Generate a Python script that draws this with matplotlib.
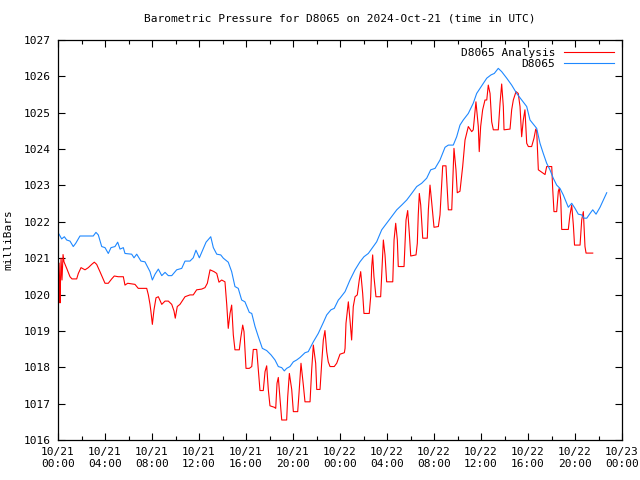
import numpy as np
import pandas as pd
import matplotlib
matplotlib.use('Agg')
import matplotlib.pyplot as plt
import matplotlib.dates as mdates

plt.rcParams['font.family'] = ['DejaVu Sans Mono']

# hours after 2024-10-21 00:00 UTC, pressure in mb
obs_hours = [0.09, 0.31, 0.54, 0.74, 1.02, 1.30, 1.51, 1.87, 3.00, 3.23, 3.43, 3.72,
             4.00, 4.28, 4.51, 4.85, 5.08, 5.28, 5.56, 5.70, 6.27, 6.47, 6.70, 7.06,
             7.40, 7.83, 8.03, 8.26, 8.54, 8.83, 9.11, 9.39, 9.68, 10.10, 10.53, 10.81,
             11.23, 11.51, 11.74, 12.03, 12.31, 12.60, 13.00, 13.22, 13.51, 13.85, 14.07,
             14.49, 14.78, 15.06, 15.34, 15.63, 15.91, 16.28, 16.49, 16.77, 17.05, 17.39,
             17.76, 18.13, 18.47, 18.75, 19.04, 19.26, 19.46, 19.74, 20.03, 20.31, 20.60,
             21.02, 21.30, 21.73, 22.15, 22.58, 22.87, 23.23, 23.51, 23.86, 24.00, 24.43,
             24.85, 25.28, 25.70, 26.04, 26.41, 26.83, 27.12, 27.55, 27.97, 28.40, 28.83,
             29.25, 29.68, 30.10, 30.53, 30.95, 31.38, 31.72, 32.09, 32.51, 32.94, 33.22,
             33.64, 33.93, 34.21, 34.49, 34.92, 35.34, 35.63, 36.06, 36.49, 36.85, 37.13,
             37.47, 37.76, 38.19, 38.61, 39.04, 39.46, 39.89, 40.17, 40.74, 41.02, 41.30,
             41.59, 41.87, 42.15, 42.44, 42.72, 43.00, 43.43, 43.72, 44.00, 44.28, 44.57,
             44.77, 45.00, 45.28, 45.51, 45.79, 46.13, 46.41, 46.70]
obs_mb = [1021.66, 1021.53, 1021.59, 1021.50, 1021.47, 1021.32, 1021.41, 1021.61, 1021.61,
          1021.71, 1021.64, 1021.32, 1021.29, 1021.13, 1021.29, 1021.32, 1021.44, 1021.25,
          1021.29, 1021.13, 1021.11, 1021.01, 1021.11, 1020.92, 1020.90, 1020.63, 1020.40,
          1020.56, 1020.70, 1020.52, 1020.61, 1020.52, 1020.52, 1020.68, 1020.72, 1020.92,
          1020.92, 1021.01, 1021.22, 1021.01, 1021.22, 1021.44, 1021.59, 1021.29, 1021.11,
          1021.09, 1021.00, 1020.89, 1020.63, 1020.22, 1020.17, 1019.85, 1019.80, 1019.51,
          1019.48, 1019.12, 1018.84, 1018.52, 1018.46, 1018.34, 1018.20, 1018.02, 1017.99,
          1017.90, 1017.97, 1018.02, 1018.15, 1018.20, 1018.27, 1018.40, 1018.43, 1018.70,
          1018.93, 1019.23, 1019.44, 1019.58, 1019.62, 1019.85, 1019.90, 1020.08, 1020.40,
          1020.68, 1020.90, 1021.04, 1021.13, 1021.32, 1021.45, 1021.78, 1021.96, 1022.14,
          1022.33, 1022.46, 1022.60, 1022.78, 1022.97, 1023.06, 1023.20, 1023.43, 1023.47,
          1023.70, 1024.05, 1024.11, 1024.11, 1024.34, 1024.66, 1024.80, 1024.98, 1025.26,
          1025.53, 1025.74, 1025.95, 1026.04, 1026.08, 1026.22, 1026.13, 1025.95, 1025.76,
          1025.53, 1025.35, 1025.17, 1024.80, 1024.57, 1024.16, 1023.88, 1023.61, 1023.43,
          1023.20, 1023.01, 1022.92, 1022.74, 1022.40, 1022.51, 1022.37, 1022.21, 1022.19,
          1022.10, 1022.10, 1022.23, 1022.33, 1022.21, 1022.40, 1022.60, 1022.80]

ana_hours = [0.09, 0.13, 0.17, 0.26, 0.34, 0.43, 0.51, 0.74, 1.02, 1.19, 1.59, 1.73, 1.96,
             2.30, 2.58, 2.87, 3.09, 3.29, 3.57, 4.00, 4.28, 4.57, 4.79, 5.13, 5.56, 5.70,
             5.93, 6.55, 6.83, 7.55, 7.69, 7.83, 7.91, 8.03, 8.17, 8.34, 8.54, 8.83, 9.11,
             9.39, 9.68, 9.87, 9.98, 10.15, 10.38, 10.81, 11.23, 11.51, 11.80, 12.23, 12.51,
             12.71, 12.94, 13.28, 13.51, 13.70, 13.93, 14.21, 14.36, 14.49, 14.64, 14.78,
             14.92, 15.06, 15.43, 15.55, 15.72, 15.83, 16.00, 16.28, 16.49, 16.62, 16.91,
             17.05, 17.19, 17.47, 17.62, 17.76, 17.90, 18.04, 18.41, 18.53, 18.64, 18.75,
             18.89, 19.04, 19.46, 19.55, 19.69, 19.89, 20.03, 20.40, 20.51, 20.68, 20.88,
             21.02, 21.45, 21.59, 21.73, 21.93, 22.02, 22.30, 22.44, 22.58, 22.72, 22.87,
             23.00, 23.15, 23.51, 23.72, 24.00, 24.37, 24.43, 24.51, 24.71, 24.85, 24.99,
             25.13, 25.28, 25.47, 25.64, 25.76, 25.93, 26.04, 26.49, 26.61, 26.70, 26.78,
             26.89, 27.06, 27.46, 27.57, 27.69, 27.83, 27.97, 28.49, 28.60, 28.74, 28.88,
             28.96, 29.45, 29.62, 29.76, 29.90, 30.02, 30.47, 30.58, 30.66, 30.75, 30.87,
             31.04, 31.43, 31.52, 31.66, 31.80, 32.00, 32.37, 32.51, 32.74, 33.02, 33.22,
             33.51, 33.70, 33.87, 33.98, 34.21, 34.44, 34.64, 34.92, 35.21, 35.34, 35.57,
             35.77, 35.85, 35.97, 36.14, 36.34, 36.49, 36.62, 36.77, 36.91, 37.05, 37.47,
             37.62, 37.76, 37.90, 37.96, 38.47, 38.61, 38.75, 38.98, 39.17, 39.32, 39.46,
             39.60, 39.74, 39.89, 40.03, 40.31, 40.51, 40.66, 40.74, 40.88, 41.19, 41.45,
             41.59, 42.02, 42.10, 42.21, 42.44, 42.58, 42.66, 42.79, 42.87, 43.43, 43.57,
             43.72, 43.86, 43.96, 44.43, 44.57, 44.71, 44.85, 44.94, 45.51]
ana_mb = [1020.86, 1020.45, 1019.77, 1021.00, 1020.40, 1021.10, 1020.90, 1020.72, 1020.49,
          1020.43, 1020.43, 1020.58, 1020.74, 1020.68, 1020.74, 1020.83, 1020.89, 1020.83,
          1020.63, 1020.31, 1020.31, 1020.43, 1020.51, 1020.49, 1020.49, 1020.26, 1020.31,
          1020.28, 1020.17, 1020.17, 1019.99, 1019.73, 1019.53, 1019.18, 1019.58, 1019.91,
          1019.94, 1019.73, 1019.82, 1019.82, 1019.73, 1019.55, 1019.35, 1019.67, 1019.73,
          1019.94, 1019.99, 1019.99, 1020.13, 1020.15, 1020.19, 1020.31, 1020.68, 1020.63,
          1020.58, 1020.34, 1020.40, 1020.35, 1019.73, 1019.07, 1019.48, 1019.71, 1018.89,
          1018.48, 1018.48, 1018.80, 1019.16, 1018.98, 1017.97, 1017.97, 1018.02, 1018.49,
          1018.49, 1017.93, 1017.36, 1017.36, 1017.88, 1018.04, 1017.38, 1016.94, 1016.90,
          1016.87, 1017.56, 1017.72, 1017.15, 1016.55, 1016.55, 1017.19, 1017.83, 1017.39,
          1016.78, 1016.78, 1017.28, 1018.11, 1017.51, 1017.05, 1017.05, 1017.93, 1018.61,
          1018.11, 1017.39, 1017.39, 1018.11, 1018.75, 1019.01, 1018.43, 1018.15, 1018.02,
          1018.02, 1018.11, 1018.36, 1018.40, 1018.52, 1019.21, 1019.80, 1019.30, 1018.75,
          1019.67, 1019.94, 1019.99, 1020.40, 1020.63, 1020.03, 1019.48, 1019.48, 1019.94,
          1020.77, 1021.09, 1020.49, 1019.94, 1019.94, 1020.68, 1021.50, 1021.09, 1020.35,
          1020.35, 1021.50, 1021.96, 1021.50, 1020.77, 1020.77, 1022.05, 1022.31, 1021.68,
          1021.06, 1021.09, 1021.41, 1022.19, 1022.78, 1022.46, 1021.55, 1021.55, 1022.33,
          1023.01, 1022.55, 1021.85, 1021.87, 1022.19, 1023.54, 1023.54, 1022.33, 1022.33,
          1024.02, 1023.43, 1022.80, 1022.84, 1023.52, 1024.25, 1024.62, 1024.48, 1024.53,
          1025.30, 1024.62, 1023.93, 1024.62, 1025.08, 1025.35, 1025.35, 1025.76, 1025.53,
          1024.75, 1024.53, 1024.53, 1025.26, 1025.79, 1025.17, 1024.53, 1024.55, 1025.08,
          1025.35, 1025.58, 1025.53, 1025.17, 1024.34, 1024.80, 1025.08, 1024.16, 1024.07,
          1024.07, 1024.30, 1024.55, 1024.50, 1023.43, 1023.36, 1023.30, 1023.52, 1023.52,
          1022.92, 1022.28, 1022.28, 1022.84, 1022.92, 1022.60, 1021.79, 1021.79, 1022.19,
          1022.46, 1021.91, 1021.36, 1021.36, 1022.05, 1022.28, 1021.32, 1021.14, 1021.14]

t0 = pd.Timestamp('2024-10-21 00:00')
obs_t = t0 + pd.to_timedelta(obs_hours, unit='h')
ana_t = t0 + pd.to_timedelta(ana_hours, unit='h')

fig = plt.figure(figsize=(6.4, 4.8), dpi=100)
ax = fig.add_axes([58 / 640, 40 / 480, 564 / 640, 400 / 480])

ax.plot(ana_t, ana_mb, color='#ff0000', lw=0.8, label='D8065 Analysis')
ax.plot(obs_t, obs_mb, color='#1e88ff', lw=0.8, label='D8065')

ax.set_xlim(t0, t0 + pd.Timedelta(hours=48))
ax.set_ylim(1016, 1027)
ax.set_yticks(np.arange(1016, 1028, 1))
ax.xaxis.set_major_locator(mdates.HourLocator(byhour=range(0, 24, 4)))
ax.xaxis.set_minor_locator(mdates.HourLocator(byhour=range(2, 24, 4)))
ax.xaxis.set_major_formatter(mdates.DateFormatter('%m/%d\n%H:%M'))

ax.tick_params(which='both', direction='in', top=True, right=True, labelsize=8, width=0.8)
ax.tick_params(which='major', length=5, pad=5)
ax.tick_params(which='minor', length=3)
for s in ax.spines.values():
    s.set_linewidth(0.9)

ax.set_title('Barometric Pressure for D8065 on 2024-Oct-21 (time in UTC)', fontsize=8, pad=13)
ax.set_ylabel('milliBars', fontsize=8, labelpad=8)

ax.legend(loc='upper right', frameon=False, fontsize=8, markerfirst=False,
          handlelength=4.5, handletextpad=0.8, labelspacing=0.1,
          borderaxespad=0.3)

plt.savefig('out.png', dpi=100)
